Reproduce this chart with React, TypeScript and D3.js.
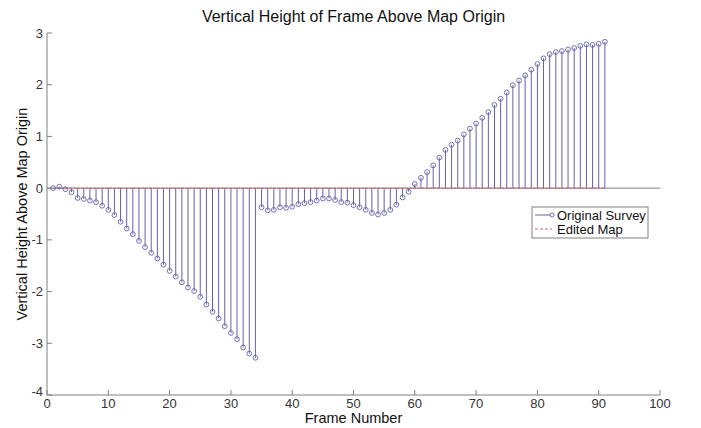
import React from 'react'
import * as d3 from 'd3'

const W = 701
const H = 428
const M = { left: 47, right: 41, top: 33, bottom: 33 }

const TITLE = 'Vertical Height of Frame Above Map Origin'
const X_LABEL = 'Frame Number'
const Y_LABEL = 'Vertical Height Above Map Origin'
const SERIES = ['Original Survey', 'Edited Map']

const xTicks = [0, 10, 20, 30, 40, 50, 60, 70, 80, 90, 100]
const yTicks = [-4, -3, -2, -1, 0, 1, 2, 3]

// frame numbers 1..91
const frames = d3.range(1, 92)

const surveyValues = [
  0, 0.03, -0.02, -0.08, -0.19, -0.21, -0.24, -0.27, -0.34, -0.42,
  -0.52, -0.65, -0.78, -0.89, -1.02, -1.14, -1.25, -1.36, -1.48, -1.6,
  -1.71, -1.82, -1.92, -1.99, -2.1, -2.25, -2.39, -2.52, -2.67, -2.8,
  -2.92, -3.08, -3.2, -3.28, -0.37, -0.43, -0.42, -0.37, -0.38, -0.36,
  -0.31, -0.29, -0.27, -0.24, -0.2, -0.2, -0.23, -0.27, -0.28, -0.33,
  -0.37, -0.42, -0.48, -0.51, -0.48, -0.42, -0.32, -0.18, -0.07, 0.08,
  0.2, 0.31, 0.44, 0.59, 0.74, 0.84, 0.92, 1.04, 1.15, 1.25,
  1.36, 1.47, 1.61, 1.73, 1.85, 1.99, 2.08, 2.18, 2.29, 2.4,
  2.51, 2.59, 2.63, 2.65, 2.68, 2.71, 2.75, 2.78, 2.77, 2.79,
  2.83
]

const editedValues = [
  0, 0, 0, 0, 0, 0, 0, 0, 0, 0,
  0, 0, 0, 0, 0, 0, 0, 0, 0, 0,
  0, 0, 0, 0, 0, 0, 0, 0, 0, 0,
  0, 0, 0, 0, 0, 0, 0, 0, 0, 0,
  0, 0, 0, 0, 0, 0, 0, 0, 0, 0,
  0, 0, 0, 0, 0, 0, 0, 0, 0, 0,
  0, 0, 0, 0, 0, 0, 0, 0, 0, 0,
  0, 0, 0, 0, 0, 0, 0, 0, 0, 0,
  0, 0, 0, 0, 0, 0, 0, 0, 0, 0,
  0
]

const STEM = '#6262ac'
const EDIT = '#d06060'
const AXIS = '#808080'
const FONT = 'Arial, "Liberation Sans", sans-serif'

const App = () => {
  const x = d3.scaleLinear().domain([0, 100]).range([M.left, W - M.right])
  const y = d3.scaleLinear().domain([-4, 3]).range([H - M.bottom, M.top])

  const editLine = d3
    .line<number>()
    .x((d, i) => x(frames[i]))
    .y(d => y(d))

  const lx = 532
  const ly = 207

  return (
    <svg
      width={W}
      height={H}
      style={{ position: 'absolute', left: 0, top: 0, background: '#fff' }}
      fontFamily={FONT}
    >
      <rect width={W} height={H} fill="#fff" />

      {/* stem baseline */}
      <line x1={x(0)} x2={x(100)} y1={y(0)} y2={y(0)} stroke={AXIS} strokeWidth={1} />

      {/* stems */}
      {surveyValues.map((v, i) => (
        <line
          key={'s' + i}
          x1={x(frames[i])}
          x2={x(frames[i])}
          y1={y(0)}
          y2={y(v)}
          stroke={STEM}
          strokeWidth={1}
        />
      ))}

      {/* edited map */}
      <path d={editLine(editedValues) || ''} fill="none" stroke={EDIT} strokeWidth={1} strokeDasharray="3,1" />

      {surveyValues.map((v, i) => (
        <circle
          key={'c' + i}
          cx={x(frames[i])}
          cy={y(v)}
          r={2.4}
          fill="none"
          stroke={STEM}
          strokeWidth={0.9}
        />
      ))}

      {/* axes */}
      <line x1={x(0)} x2={x(0)} y1={y(3)} y2={y(-4)} stroke={AXIS} />
      <line x1={x(0)} x2={x(100)} y1={y(-4)} y2={y(-4)} stroke={AXIS} />
      {yTicks.map(t => (
        <g key={'yt' + t}>
          <line x1={x(0)} x2={x(0) + 5} y1={y(t)} y2={y(t)} stroke={AXIS} />
          <text x={x(0) - 4} y={y(t)} dy={t === -4 ? '0.1em' : '0.35em'} textAnchor="end" fontSize={13} fill="#333">
            {t}
          </text>
        </g>
      ))}
      {xTicks.map(t => (
        <g key={'xt' + t}>
          <line x1={x(t)} x2={x(t)} y1={y(-4)} y2={y(-4) - 5} stroke={AXIS} />
          <text x={x(t)} y={y(-4) + 13} textAnchor="middle" fontSize={13} fill="#333">
            {t}
          </text>
        </g>
      ))}

      <text x={(x(0) + x(100)) / 2} y={22} textAnchor="middle" fontSize={16} fill="#111">
        {TITLE}
      </text>
      <text x={(x(0) + x(100)) / 2} y={H - 5} textAnchor="middle" fontSize={14.5} fill="#111">
        {X_LABEL}
      </text>
      <text
        transform={`translate(27,${(y(3) + y(-4)) / 2}) rotate(-90)`}
        textAnchor="middle"
        fontSize={14.5}
        fill="#111"
      >
        {Y_LABEL}
      </text>

      {/* legend */}
      <rect x={lx} y={ly} width={116} height={31} fill="#fff" stroke={AXIS} />
      <line x1={lx + 3} x2={lx + 20} y1={ly + 8} y2={ly + 8} stroke={STEM} />
      <circle cx={lx + 20} cy={ly + 8} r={2} fill="#fff" stroke={STEM} strokeWidth={0.9} />
      <text x={lx + 25} y={ly + 8} dy="0.35em" fontSize={13} fill="#111">
        {SERIES[0]}
      </text>
      <line x1={lx + 3} x2={lx + 20} y1={ly + 22} y2={ly + 22} stroke={EDIT} strokeDasharray="3,2" />
      <text x={lx + 25} y={ly + 22} dy="0.35em" fontSize={13} fill="#111">
        {SERIES[1]}
      </text>
    </svg>
  )
}

export default App
